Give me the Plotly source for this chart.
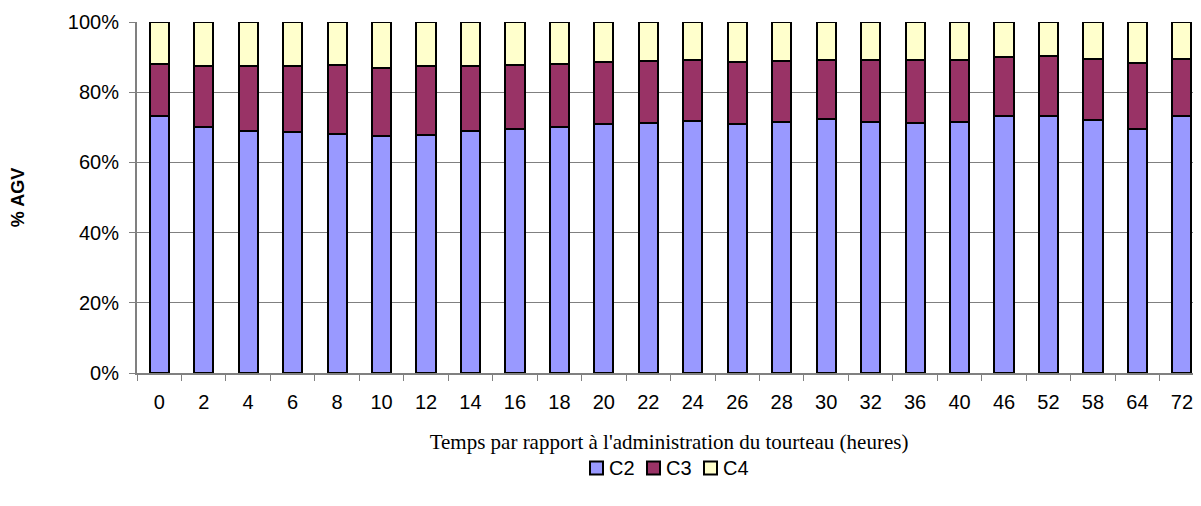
import plotly.graph_objects as go

categories = ["0", "2", "4", "6", "8", "10", "12", "14", "16", "18", "20", "22",
              "24", "26", "28", "30", "32", "36", "40", "46", "52", "58", "64", "72"]
c2 = [73.1, 70.1, 68.9, 68.7, 68.2, 67.4, 67.9, 68.9, 69.6, 70.1, 70.9, 71.2,
      71.8, 70.9, 71.5, 72.3, 71.5, 71.3, 71.5, 73.1, 73.2, 72.2, 69.6, 73.1]
c3 = [15.0, 17.3, 18.5, 18.7, 19.5, 19.6, 19.5, 18.5, 18.1, 18.0, 17.7, 17.7,
      17.3, 17.7, 17.4, 17.0, 17.6, 17.8, 17.8, 16.9, 17.0, 17.4, 18.8, 16.3]
c4 = [11.9, 12.6, 12.6, 12.6, 12.3, 13.0, 12.6, 12.6, 12.3, 11.9, 11.4, 11.1,
      10.9, 11.4, 11.1, 10.7, 10.9, 10.9, 10.7, 10.0, 9.8, 10.4, 11.6, 10.6]

series = [("C2", c2, "#9999FF"), ("C3", c3, "#993366"), ("C4", c4, "#FFFFCC")]

# page body has an 8px default margin; size the figure so it fills the window
PAGE = 8
W, H = 1201 - PAGE, 506 - PAGE
ML, MR, MT, MB = 137 - PAGE, 0, 22 - PAGE, 133
PW, PH = W - ML - MR, H - MT - MB


def px_x(sx):
    return (sx - PAGE - ML) / PW


def px_y(sy):
    return (H - MB - (sy - PAGE)) / PH


fig = go.Figure()
for name, vals, col in series:
    fig.add_trace(go.Bar(
        x=categories, y=vals, name=name, showlegend=False,
        marker=dict(color=col, line=dict(color="black", width=2)),
    ))

# custom legend (square swatches with black border + label), screen coords
leg_y = 468
leg_start = 590
leg_step = 57
sq = 13
for i, (name, vals, col) in enumerate(series):
    x0 = leg_start + i * leg_step
    fig.add_shape(type="rect", xref="paper", yref="paper",
                  x0=px_x(x0), x1=px_x(x0 + sq),
                  y0=px_y(leg_y + sq / 2), y1=px_y(leg_y - sq / 2),
                  fillcolor=col, line=dict(color="black", width=2))
    fig.add_annotation(xref="paper", yref="paper", x=px_x(x0 + sq + 4), y=px_y(leg_y),
                       xanchor="left", yanchor="middle", text=name, showarrow=False,
                       font=dict(size=20))

fig.update_layout(
    barmode="stack",
    barnorm="percent",
    bargap=0.57,
    width=W, height=H,
    margin=dict(l=ML, r=MR, t=MT, b=MB),
    plot_bgcolor="white", paper_bgcolor="white",
    font=dict(family="Arial, Liberation Sans", size=20, color="black"),
    showlegend=False,
)
fig.update_xaxes(
    type="category", range=[-0.5, 23.43],
    showgrid=False, showline=True, linecolor="#808080", linewidth=2,
    ticks="outside", tickson="boundaries", ticklen=6, tickcolor="#808080",
    ticklabelstandoff=10, automargin=False,
    title=dict(text="Temps par rapport à l'administration du tourteau (heures)",
               font=dict(family="Liberation Serif, Times New Roman", size=21), standoff=22),
)
fig.update_yaxes(
    range=[0, 100], tickvals=[0, 20, 40, 60, 80, 100],
    ticktext=["0%", "20%", "40%", "60%", "80%", "100%"],
    showgrid=True, gridcolor="#808080", gridwidth=1,
    showline=True, linecolor="#808080", linewidth=2,
    ticks="outside", ticklen=6, tickcolor="#808080", ticklabelstandoff=6,
    automargin=False,
    title=dict(text="<b>% AGV</b>", font=dict(size=18), standoff=40),
)

fig.write_html("out.html")
